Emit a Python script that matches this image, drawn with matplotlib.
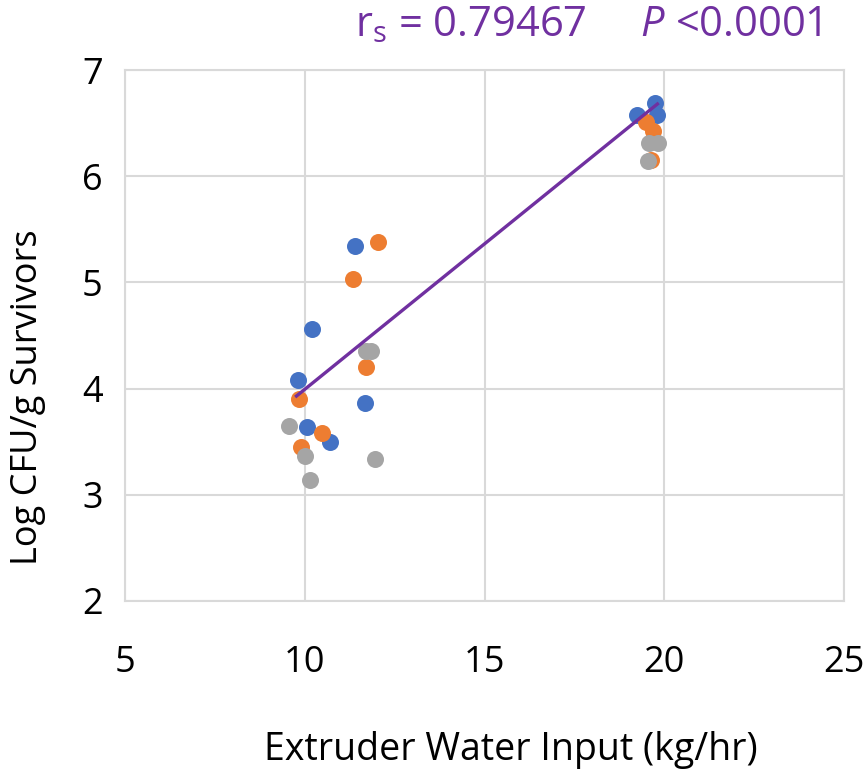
import numpy as np
import matplotlib.pyplot as plt

plt.rcParams['font.family'] = ['Open Sans', 'DejaVu Sans']
plt.rcParams['mathtext.fontset'] = 'custom'
plt.rcParams['mathtext.rm'] = 'Open Sans'
plt.rcParams['mathtext.it'] = 'Open Sans:italic'

# three runs, water input (kg/hr) vs log survivors
x_blue = [11.39, 10.19, 9.80, 10.05, 10.69, 11.67, 19.24, 19.74, 19.81]
y_blue = [5.34, 4.56, 4.08, 3.64, 3.50, 3.86, 6.58, 6.69, 6.58]
x_orange = [12.04, 11.34, 11.69, 9.84, 10.49, 9.89, 19.49, 19.68, 19.63]
y_orange = [5.38, 5.03, 4.20, 3.90, 3.58, 3.45, 6.51, 6.43, 6.15]
x_gray = [11.71, 11.85, 9.55, 10.00, 10.14, 11.96, 19.58, 19.84, 19.56]
y_gray = [4.35, 4.35, 3.65, 3.37, 3.14, 3.34, 6.31, 6.31, 6.14]

# trend line as drawn in the original
trend_x = [9.77, 19.81]
trend_y = [3.93, 6.68]

fig = plt.figure(figsize=(8.67, 7.73), dpi=100)
ax = fig.add_axes([125/867, 1-601/773, (844-125)/867, (601-70)/773])

ms = 150
ax.scatter(x_blue, y_blue, s=ms, color='#4472C4', zorder=3, linewidths=0)
ax.scatter(x_orange, y_orange, s=ms, color='#ED7D31', zorder=3, linewidths=0)
ax.scatter(x_gray, y_gray, s=ms, color='#A5A5A5', zorder=3, linewidths=0)
ax.plot(trend_x, trend_y, color='#7030A0', lw=2.4, zorder=4)

ax.set_xlim(5, 25)
ax.set_ylim(2, 7)
ax.set_xticks([5, 10, 15, 20, 25])
ax.set_yticks([2, 3, 4, 5, 6, 7])
ax.grid(True, color='#D9D9D9', lw=1.5)
ax.set_axisbelow(True)
for s in ax.spines.values():
    s.set_color('#D9D9D9')
    s.set_linewidth(1.5)
ax.tick_params(length=0, labelsize=26)
ax.tick_params(axis='x', pad=32)
ax.tick_params(axis='y', pad=16)

fig.text(511/867, 1-750/773, 'Extruder Water Input (kg/hr)', fontsize=27,
         ha='center', va='center')
fig.text(28/867, 1-397/773, 'Log CFU/g Survivors', fontsize=26,
         ha='center', va='center', rotation=90)
fig.text(588/867, 1-25/773, r'$\mathrm{r_s}$ = 0.79467     $\mathit{P}$ <0.0001',
         fontsize=30, color='#7030A0', ha='center', va='center')

fig.savefig('out.png', dpi=100)
